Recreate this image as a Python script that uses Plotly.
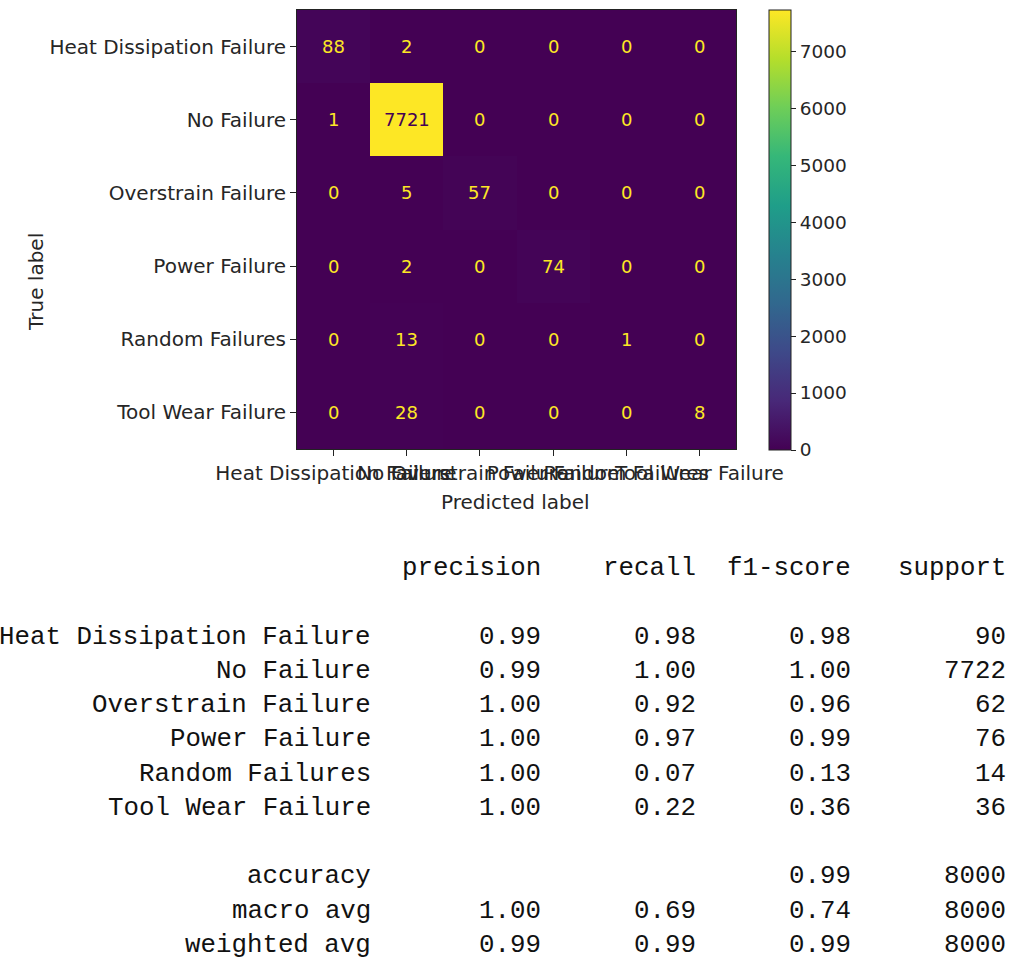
import plotly.graph_objects as go

# Class names and confusion matrix counts (rows = true, cols = predicted)
classes = ["Heat Dissipation Failure", "No Failure", "Overstrain Failure",
           "Power Failure", "Random Failures", "Tool Wear Failure"]
cm = [
    [88, 2, 0, 0, 0, 0],
    [1, 7721, 0, 0, 0, 0],
    [0, 5, 57, 0, 0, 0],
    [0, 2, 0, 74, 0, 0],
    [0, 13, 0, 0, 1, 0],
    [0, 28, 0, 0, 0, 8],
]
cbar_ticks = [0, 1000, 2000, 3000, 4000, 5000, 6000, 7000]

# Classification report values
precision = [0.99, 0.99, 1.00, 1.00, 1.00, 1.00]
recall = [0.98, 1.00, 0.92, 0.97, 0.07, 0.22]
f1_score = [0.98, 1.00, 0.96, 0.99, 0.13, 0.36]
support = [90, 7722, 62, 76, 14, 36]
accuracy = 0.99
total = 8000
macro_avg = [1.00, 0.69, 0.74]
weighted_avg = [0.99, 0.99, 0.99]
headers = ["precision", "recall", "f1-score", "support"]

W, H = 1015, 960
VIRIDIS_LO, VIRIDIS_HI = "#440154", "#fde725"
TXT = "#262626"


def px(x):
    return x / W


def py(y):
    return 1 - y / H


n = len(classes)
idx = list(range(n))
zmax = max(max(r) for r in cm)

fig = go.Figure()
fig.add_trace(go.Heatmap(
    z=cm, x=idx, y=idx, colorscale="Viridis", zmin=0, zmax=zmax,
    showscale=True, hoverinfo="skip",
    colorbar=dict(
        x=px(769), xanchor="left", xpad=0, ypad=0,
        y=py(230), yanchor="middle", lenmode="pixels", len=440,
        thickness=22, outlinewidth=1, outlinecolor="#222",
        tickvals=cbar_ticks, ticks="outside", ticklen=5, tickcolor="#222",
        tickfont=dict(family="DejaVu Sans", size=18.5, color=TXT),
    ),
))

annotations = []
thresh = zmax / 2
for i, row in enumerate(cm):
    for j, v in enumerate(row):
        annotations.append(dict(
            x=j, y=i, xref="x", yref="y", text=str(v), showarrow=False,
            font=dict(family="DejaVu Sans", size=18,
                      color=VIRIDIS_LO if v > thresh else VIRIDIS_HI),
        ))

# Axis titles
annotations.append(dict(x=px(22), y=py(231), xref="paper", yref="paper",
                        text="True label", textangle=-90, showarrow=False,
                        font=dict(family="DejaVu Sans", size=20, color=TXT)))
annotations.append(dict(x=px(515), y=py(502), xref="paper", yref="paper",
                        text="Predicted label", showarrow=False,
                        font=dict(family="DejaVu Sans", size=20, color=TXT)))

# Classification report laid out as right-aligned monospace columns
mono = dict(family="Liberation Mono", size=25.8, color="#111")
col_right = [543, 698, 853, 1008]
name_right = 373


def put(text, xr, yc):
    annotations.append(dict(x=px(xr), y=py(yc), xref="paper", yref="paper",
                            text=text, showarrow=False, xanchor="right",
                            yanchor="middle", font=mono))


for h, xr in zip(headers, col_right):
    put(h, xr, 568)

row_y = [637, 671, 705, 739, 774, 808]
for k, name in enumerate(classes):
    yc = row_y[k]
    put(name, name_right, yc)
    put(f"{precision[k]:.2f}", col_right[0], yc)
    put(f"{recall[k]:.2f}", col_right[1], yc)
    put(f"{f1_score[k]:.2f}", col_right[2], yc)
    put(str(support[k]), col_right[3], yc)

put("accuracy", name_right, 876)
put(f"{accuracy:.2f}", col_right[2], 876)
put(str(total), col_right[3], 876)
for label, vals, yc in [("macro avg", macro_avg, 911), ("weighted avg", weighted_avg, 945)]:
    put(label, name_right, yc)
    for v, xr in zip(vals, col_right[:3]):
        put(f"{v:.2f}", xr, yc)
    put(str(total), col_right[3], yc)

axis_common = dict(showline=True, mirror=True, linecolor="#222", linewidth=1,
                   ticks="outside", ticklen=6, tickcolor="#222", showgrid=False,
                   zeroline=False, automargin=False,
                   tickfont=dict(family="DejaVu Sans", size=20, color=TXT))

fig.update_layout(
    width=W, height=H, margin=dict(l=0, r=0, t=0, b=0, autoexpand=False),
    paper_bgcolor="white", plot_bgcolor="white",
    xaxis=dict(domain=[px(297), px(736)], tickvals=idx, ticktext=classes,
               tickangle=0, range=[-0.5, n - 0.5], **axis_common),
    yaxis=dict(domain=[py(449), py(10)], tickvals=idx, ticktext=classes,
               range=[n - 0.5, -0.5], **axis_common),
    annotations=annotations,
)

fig.write_html("out.html")
